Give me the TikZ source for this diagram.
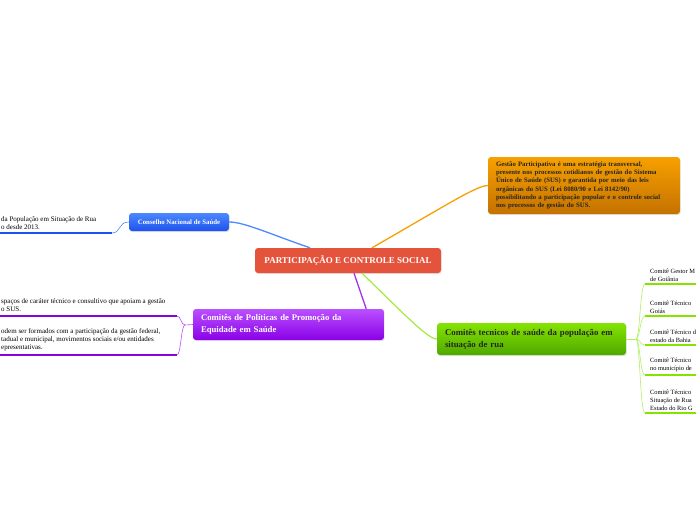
\documentclass[tikz,border=0pt]{standalone}
\usepackage{fontspec}
\setmainfont{Liberation Serif}
\usetikzlibrary{calc,shadows}
\definecolor{rootred}{HTML}{E4533B}
\definecolor{orgtop}{HTML}{F7A000}
\definecolor{orgbot}{HTML}{C47200}
\definecolor{bluetop}{HTML}{4C88FF}
\definecolor{bluebot}{HTML}{1D52EE}
\definecolor{purtop}{HTML}{BA50FF}
\definecolor{purbot}{HTML}{8A00E6}
\definecolor{grntop}{HTML}{84E400}
\definecolor{grnbot}{HTML}{4FA800}
\tikzset{
  topic/.style={rounded corners=3pt, inner sep=0pt, inner xsep=8pt, align=left,
        drop shadow={opacity=0.2, shadow xshift=0.6pt, shadow yshift=-1.2pt}},
  note text/.style={inner sep=0pt, align=left, anchor=south west,
        font=\fontsize{7}{8}\selectfont},
  leaf text/.style={inner sep=0pt, align=left, anchor=south west,
        font=\fontsize{6.4}{8}\selectfont},
  blue link/.style={draw=bluetop, line width=1.3pt},
  twig/.style={line width=0.6pt},
  bar/.style={line width=2.6pt}
}
% one sub topic on the right of the green branch
\def\Leaf#1#2#3{%
  \coordinate (#1) at (645,#2);
  \coordinate (#1e) at (700,#2);
  \draw[bar, draw=grntop] (#1) -- (#1e);
  \draw[twig, draw=grntop!60] (gjoint) .. controls (640,339) and (640,#2) .. (#1);
  \node[leaf text] at ($(#1)+(5,-2.5)$) {#3};
}

\begin{document}
\begin{tikzpicture}[x=1pt,y=-1pt]
\useasboundingbox[fill=white] (0,0) rectangle (696,520);

% central topic
\node[topic, fill=rootred, text=white, align=center, minimum width=186pt, minimum height=25pt,
      font=\bfseries\fontsize{9}{10}\selectfont] (root) at (348,260.5)
      {PARTICIPAÇÃO E CONTROLE SOCIAL};

% main topics
\node[topic, top color=orgtop, bottom color=orgbot, text=black!85, text width=176pt,
      minimum height=57pt, font=\bfseries\fontsize{6.75}{8.3}\selectfont] (gest) at (584,185.5)
      {Gestão Participativa é uma estratégia transversal,\\
       presente nos processos cotidianos de gestão do Sistema\\
       Único de Saúde (SUS) e garantida por meio das leis\\
       orgânicas do SUS (Lei 8080/90 e Lei 8142/90)\\
       possibilitando a participação popular e o controle social\\
       nos processos de gestão do SUS.};
\node[topic, top color=bluetop, bottom color=bluebot, text=white, align=center,
      minimum width=100pt, minimum height=18pt,
      font=\bfseries\fontsize{6.8}{8}\selectfont] (cns) at (179,222)
      {Conselho Nacional de Saúde};
\node[topic, top color=purtop, bottom color=purbot, text=white, text width=175pt,
      minimum height=31pt, font=\bfseries\fontsize{8.7}{12}\selectfont] (equi) at (288.5,324.5)
      {Comitês de Políticas de Promoção da\\Equidade em Saúde};
\node[topic, top color=grntop, bottom color=grnbot, text=black!85, text width=173pt,
      minimum height=32pt, font=\bfseries\fontsize{8.8}{12}\selectfont] (tec) at (531.5,339)
      {Comitês tecnicos de saúde da população em\\situação de rua};

% links from the central topic
\draw[blue link] ($(root.north)+(-38,0)$) .. controls (270,234) and (244,222) .. (cns.east);
\draw[draw=orgtop, line width=1.3pt] ($(root.north)+(24,0)$) .. controls (450,203) and (476,186) .. (gest.west);
\draw[draw=purbot!80, line width=1.3pt] ($(root.south)+(6,0)$) -- ($(equi.north east)+(-18,0)$);
\draw[draw=grntop!80, line width=1.1pt] ($(root.south)+(14,0)$) .. controls (405,315) and (428,339) .. (tec.west);

% Conselho Nacional de Saude
\coordinate (cnsA) at (112,233);
\coordinate (cnsB) at (-4,233);
\draw[twig, draw=bluetop] (cns.west) .. controls (118,222) and (121,233) .. (cnsA);
\draw[bar, draw=bluebot] (cnsA) -- (cnsB);
\node[note text] at (1,230) {da População em Situação de Rua\\o desde 2013.};

% Comites de Politicas de Promocao da Equidade
\coordinate (pjoint) at (185,325);
\coordinate (pA) at (177,316);
\coordinate (pAe) at (-4,316);
\coordinate (pB) at (177,355);
\coordinate (pBe) at (-4,355);
\draw[twig, draw=purtop] (equi.west) -- (pjoint);
\draw[twig, draw=purtop] (pjoint) .. controls (181,325) and (181,316) .. (pA);
\draw[twig, draw=purtop] (pjoint) .. controls (181,325) and (181,355) .. (pB);
\draw[bar, draw=purbot] (pA) -- (pAe);
\draw[bar, draw=purbot] (pB) -- (pBe);
\node[note text] at (1,312) {spaços de caráter técnico e consultivo que apoiam a gestão\\o SUS.};
\node[note text] at (1,351) {odem ser formados com a participação da gestão federal,\\
  tadual e municipal, movimentos sociais e/ou entidades\\epresentativas.};

% Comites tecnicos
\coordinate (gjoint) at (636,339);
\draw[twig, draw=grntop!60] (tec.east) -- (gjoint);
\Leaf{g1}{284}{Comitê Gestor M\\de Goiânia}
\Leaf{g2}{316}{Comitê Técnico\\Goiás}
\Leaf{g3}{345}{Comitê Técnico d\\estado da Bahia}
\Leaf{g4}{375}{Comitê Técnico\\no município de}
\Leaf{g5}{413}{Comitê Técnico\\Situação de Rua\\Estado do Rio G}
\end{tikzpicture}
\end{document}
